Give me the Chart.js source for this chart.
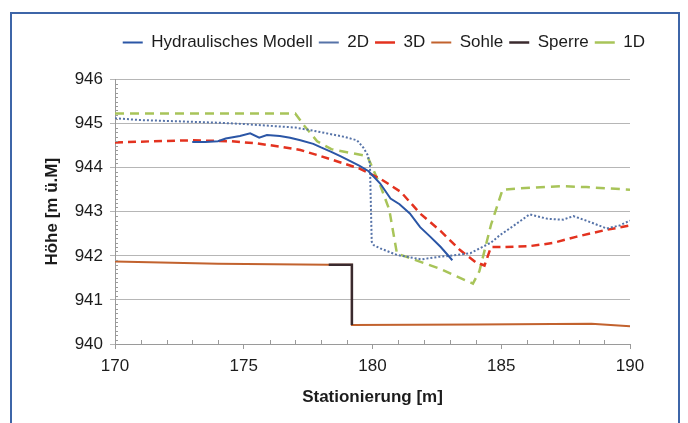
<!DOCTYPE html>
<html>
<head>
<meta charset="utf-8">
<script src="https://cdn.jsdelivr.net/npm/chart.js@4.4.1/dist/chart.umd.min.js"></script>
<style>
  html, body { margin: 0; padding: 0; background: #fff; }
  canvas { display: block; }
</style>
</head>
<body>
<canvas id="chart" width="688" height="423"></canvas>
<script>
// Wasserspiegel-Längsschnitt

const modellX = [173.0, 173.5, 174.0, 174.3, 174.85, 175.25, 175.6, 175.9, 176.4, 176.8, 177.2, 177.7, 178.0, 178.4, 178.75, 179.1, 179.5, 179.85, 180.3, 180.7, 181.05, 181.45, 181.85, 182.25, 182.65, 183.1];
const modellY = [944.58, 944.58, 944.6, 944.66, 944.72, 944.78, 944.68, 944.74, 944.72, 944.68, 944.62, 944.54, 944.46, 944.36, 944.26, 944.16, 944.04, 943.92, 943.64, 943.3, 943.17, 942.96, 942.65, 942.43, 942.2, 941.9];

const zweiDX = [170, 171, 172, 173, 174, 175, 176, 177, 177.6, 178.3, 178.9, 179.4, 179.65, 179.8, 179.9, 179.97, 180.05, 180.3, 180.95, 181.9, 182.6, 183.0, 183.8, 184.2, 184.6, 184.95, 185.5, 186.1, 186.8, 187.4, 187.8, 188.3, 189.1, 189.6, 190];
const zweiDY = [945.12, 945.08, 945.06, 945.04, 945.02, 944.99, 944.95, 944.91, 944.85, 944.77, 944.7, 944.62, 944.45, 944.3, 944.1, 942.32, 942.24, 942.17, 942.02, 941.92, 941.98, 942.0, 942.06, 942.18, 942.3, 942.47, 942.69, 942.94, 942.84, 942.82, 942.9, 942.8, 942.62, 942.69, 942.8];

const dreiDX = [170, 171.5, 173, 174.5, 175.5, 176.5, 177.2, 178.0, 178.7, 179.5, 180.3, 181.1, 181.85, 182.65, 183.4, 184.0, 184.35, 184.6, 185.1, 186.1, 187.0, 187.9, 189.0, 190];
const dreiDY = [944.57, 944.6, 944.62, 944.6, 944.55, 944.47, 944.4, 944.26, 944.13, 943.98, 943.75, 943.45, 942.96, 942.56, 942.13, 941.86, 941.78, 942.2, 942.2, 942.22, 942.29, 942.43, 942.58, 942.69];

const sohleX = [170, 174, 178.3, 179.2, 179.2, 184, 188.5, 190];
const sohleY = [941.87, 941.82, 941.8, 941.8, 940.43, 940.44, 940.46, 940.4];

const sperreX = [178.3, 179.2, 179.2];
const sperreY = [941.8, 941.8, 940.43];

const einsDX = [170, 177.0, 177.35, 177.85, 178.4, 179.8, 180.3, 180.65, 180.95, 181.35, 182.6, 183.9, 184.15, 184.6, 185.05, 185.7, 187.3, 188.3, 190];
const einsDY = [945.23, 945.23, 944.95, 944.6, 944.42, 944.26, 943.6, 943.05, 942.05, 941.97, 941.71, 941.37, 941.65, 942.7, 943.5, 943.53, 943.58, 943.56, 943.5];

const xTitle = 'Stationierung [m]';
const yTitle = 'Höhe [m ü.M]';

function points(xs, ys) {
    return xs.map((x, i) => ({ x: x, y: ys[i] }));
}

const CHART_TOP = 79.5;
const TEXT = '#1c1c1c';
const GRID = '#b6b6b6';

// frame, legend spacing and minor ticks
const extras = {
    id: 'extras',
    beforeLayout(chart) {
        const legend = chart.legend;
        if (legend && !legend._patched) {
            const fit = legend.fit;
            legend.fit = function () {
                fit.call(this);
                this.height = CHART_TOP - chart.options.layout.padding.top;
            };
            legend._patched = true;
        }
    },
    beforeDraw(chart) {
        const ctx = chart.ctx;
        ctx.save();
        ctx.fillStyle = '#fff';
        ctx.fillRect(0, 0, chart.width, chart.height);
        ctx.strokeStyle = '#3d65a8';
        ctx.lineWidth = 2;
        ctx.strokeRect(11, 13, 668, 430);
        ctx.restore();
    },
    afterDraw(chart) {
        const ctx = chart.ctx;
        const xs = chart.scales.x;
        const ys = chart.scales.y;
        const area = chart.chartArea;
        ctx.save();
        ctx.strokeStyle = '#9a9a9a';
        ctx.lineWidth = 1;
        ctx.beginPath();
        for (let v = 1; v < 60; v++) {
            if (v % 10 === 0) continue;
            const py = Math.round(ys.getPixelForValue(940 + v / 10)) + 0.5;
            ctx.moveTo(area.left, py);
            ctx.lineTo(area.left + 3, py);
        }
        for (let v = 171; v < 190; v++) {
            if (v % 5 === 0) continue;
            const px = Math.round(xs.getPixelForValue(v)) + 0.5;
            ctx.moveTo(px, area.bottom);
            ctx.lineTo(px, area.bottom - 4);
        }
        ctx.stroke();
        ctx.restore();
    }
};

Chart.defaults.font.family = "'Liberation Sans', Arial, sans-serif";
Chart.defaults.font.size = 17;
Chart.defaults.color = TEXT;

const lineBase = { showLine: true, pointRadius: 0, tension: 0, fill: false, borderCapStyle: 'butt' };

new Chart(document.getElementById('chart'), {
    type: 'scatter',
    data: {
        datasets: [
            Object.assign({}, lineBase, {
                label: 'Hydraulisches Modell', data: points(modellX, modellY),
                borderColor: '#2b56a6', backgroundColor: '#2b56a6', borderWidth: 2
            }),
            Object.assign({}, lineBase, {
                label: '2D', data: points(zweiDX, zweiDY),
                borderColor: '#5673a8', backgroundColor: '#5673a8', borderWidth: 2, borderDash: [2, 2]
            }),
            Object.assign({}, lineBase, {
                label: '3D', data: points(dreiDX, dreiDY),
                borderColor: '#e3321f', backgroundColor: '#e3321f', borderWidth: 2.5, borderDash: [8, 5]
            }),
            Object.assign({}, lineBase, {
                label: 'Sohle', data: points(sohleX, sohleY),
                borderColor: '#c2622e', backgroundColor: '#c2622e', borderWidth: 2
            }),
            Object.assign({}, lineBase, {
                label: 'Sperre', data: points(sperreX, sperreY), order: -1,
                borderColor: '#3a2a2e', backgroundColor: '#3a2a2e', borderWidth: 2.5
            }),
            Object.assign({}, lineBase, {
                label: '1D', data: points(einsDX, einsDY),
                borderColor: '#a8c459', backgroundColor: '#a8c459', borderWidth: 2.5, borderDash: [9, 6]
            })
        ]
    },
    options: {
        responsive: false,
        animation: false,
        events: [],
        layout: { padding: { top: 28, left: 42, right: 37, bottom: 15 } },
        plugins: {
            tooltip: { enabled: false },
            legend: {
                position: 'top',
                align: 'end',
                labels: {
                    usePointStyle: true,
                    pointStyle: 'line',
                    pointStyleWidth: 20,
                    padding: 6,
                    color: TEXT,
                    font: { size: 17 },
                    sort: (a, b) => a.datasetIndex - b.datasetIndex
                }
            }
        },
        scales: {
            x: {
                type: 'linear',
                min: 170,
                max: 190,
                ticks: { stepSize: 5, padding: 7, color: TEXT, font: { size: 17 } },
                grid: { drawOnChartArea: false, drawTicks: true, tickLength: 5, color: '#9a9a9a' },
                border: { display: true, color: '#9a9a9a' },
                title: { display: true, text: xTitle, color: TEXT, padding: 0, font: { size: 17, weight: 'bold' } },
                afterFit(scale) {
                    scale.height = 64;
                    scale.paddingRight = 58;
                }
            },
            y: {
                type: 'linear',
                min: 940,
                max: 946,
                ticks: { stepSize: 1, padding: 7, color: TEXT, font: { size: 17 } },
                grid: { color: GRID, drawTicks: true, tickLength: 5 },
                border: { display: true, color: '#9a9a9a' },
                title: { display: true, text: yTitle, color: TEXT, padding: 0, font: { size: 17, weight: 'bold' } },
                afterFit(scale) {
                    scale.width = 73;
                }
            }
        }
    },
    plugins: [extras]
});
</script>
</body>
</html>
